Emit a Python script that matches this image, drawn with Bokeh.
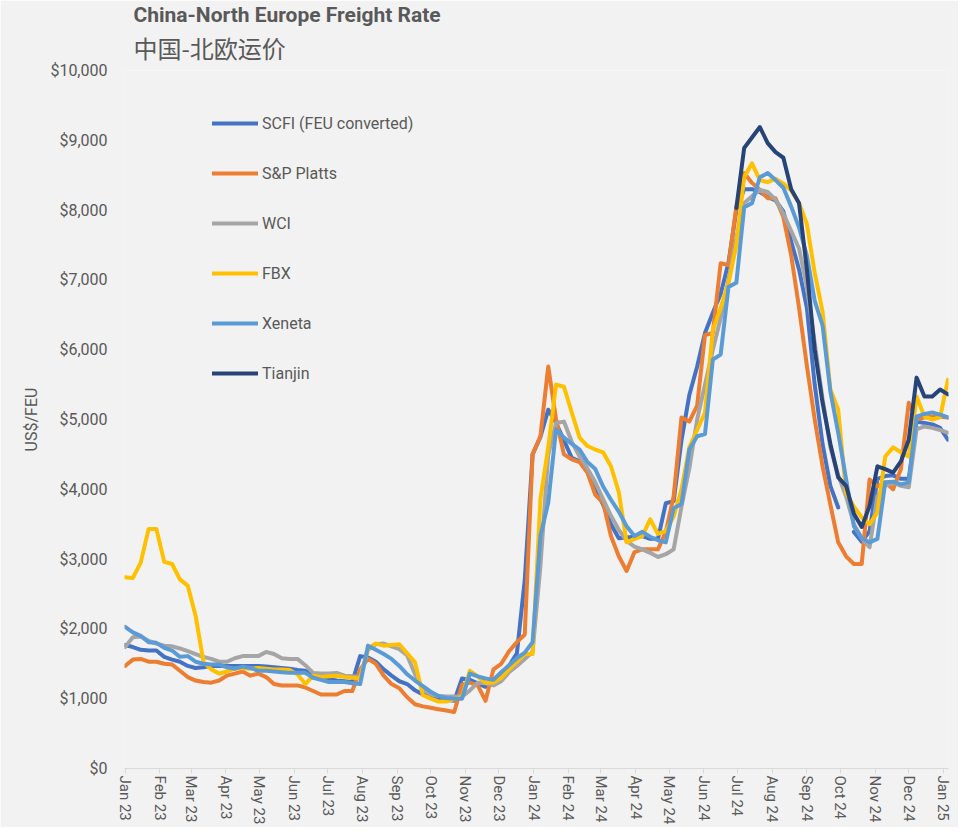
import math
from datetime import datetime, timedelta
import numpy as np
from bokeh.plotting import figure
from bokeh.models import (Range1d, FixedTicker, NumeralTickFormatter, DatetimeTickFormatter,
                          Legend, LegendItem, Title)
from bokeh.embed import file_html
from bokeh.resources import INLINE

nan = float("nan")

# Weekly observations, Jan 2023 - Jan 2025 (US$/FEU)
start_date = datetime(2023, 1, 1)
n_weeks = 106

scfi = [1770, 1740, 1700, 1690, 1690, 1600, 1560, 1530, 1470, 1440,
        1450, 1470, 1470, 1470, 1470, 1470, 1470, 1470, 1460, 1450,
        1440, 1430, 1410, 1400, 1340, 1300, 1280, 1260, 1250, 1240,
        1610, 1590, 1530, 1420, 1330, 1250, 1210, 1120, 1060, 1030,
        1000, 985, 970, 1290, 1270, 1220, 1170, 1260, 1370, 1470,
        1650, 2700, 4500, 4750, 5140, 4950, 4700, 4450, 4400, 4250,
        4000, 3780, 3500, 3300, 3310, 3320, 3330, 3290, 3290, 3800,
        3830, 4700, 5350, 5760, 6240, 6530, 6800, 7250, 8000, 8300,
        8300, 8260, 8190, 8140, 7980, 7550, 7150, 6600, 5500, 4650,
        4050, 3740, nan, 3390, 3250, 3400, 4150, 4190, 4200, 4150,
        4150, 4970, 4950, 4930, 4880, 4710]

platts = [1470, 1560, 1570, 1530, 1530, 1500, 1490, 1400, 1310, 1260,
          1240, 1230, 1260, 1330, 1360, 1390, 1330, 1360, 1310, 1210,
          1190, 1190, 1190, 1160, 1110, 1060, 1060, 1060, 1110, 1110,
          1420, 1570, 1500, 1330, 1210, 1150, 1020, 920, 890, 870,
          850, 830, 810, 1200, 1230, 1190, 970, 1420, 1500, 1680,
          1810, 1920, 4500, 4760, 5760, 5000, 4500, 4430, 4390, 4240,
          3920, 3810, 3330, 3040, 2830, 3100, 3140, 3140, 3140, 3390,
          3900, 5030, 4970, 5200, 6210, 6240, 7240, 7210, 8050, 8530,
          8390, 8290, 8170, 8170, 7900, 7350, 6600, 5770, 5000, 4330,
          3780, 3240, 3040, 2930, 2930, 4140, 4040, 4100, 4000, 4290,
          5240, 5000, 5030, 5040, 5040, 5030]

wci = [1740, 1880, 1890, 1830, 1790, 1760, 1750, 1720, 1680, 1640,
       1600, 1570, 1530, 1530, 1580, 1610, 1610, 1610, 1670, 1640,
       1580, 1570, 1570, 1480, 1370, 1360, 1360, 1370, 1330, 1320,
       1310, 1700, 1780, 1790, 1750, 1710, 1620, 1350, 1130, 1060,
       1040, 1030, 1030, 1030, 1120, 1230, 1220, 1190, 1250, 1380,
       1470, 1570, 1670, 2900, 4500, 4950, 4970, 4680, 4470, 4300,
       4100, 3860, 3620, 3420, 3260, 3180, 3140, 3090, 3030, 3070,
       3140, 3750, 4300, 5000, 5500, 6000, 6450, 7000, 7600, 8100,
       8200, 8290, 8260, 8150, 7950, 7700, 7450, 6900, 6100, 5300,
       4600, 4200, 3900, 3500, 3300, 3170, 3900, 4050, 4100, 4050,
       4030, 4860, 4900, 4880, 4850, 4810]

fbx = [2740, 2730, 2950, 3430, 3430, 2960, 2930, 2710, 2620, 2190,
       1530, 1420, 1360, 1390, 1430, 1440, 1430, 1440, 1430, 1420,
       1420, 1410, 1350, 1210, 1330, 1310, 1320, 1330, 1310, 1300,
       1290, 1720, 1790, 1760, 1770, 1780, 1650, 1520, 1050, 1000,
       960, 960, 990, 1030, 1400, 1320, 1230, 1230, 1300, 1420,
       1530, 1640, 1640, 3860, 4600, 5500, 5470, 5100, 4740, 4620,
       4570, 4530, 4330, 3960, 3240, 3290, 3330, 3570, 3360, 3400,
       3610, 4000, 4600, 4850, 5100, 6290, 6600, 6950, 7500, 8470,
       8670, 8430, 8400, 8450, 8380, 8280, 8100, 7800, 7100, 6550,
       5430, 5140, 3950, 3750, 3600, 3500, 3670, 4470, 4600, 4530,
       4470, 5330, 5040, 5000, 5030, 5570]

xeneta = [2030, 1950, 1900, 1810, 1800, 1730, 1690, 1600, 1610, 1530,
          1500, 1490, 1490, 1450, 1430, 1460, 1440, 1400, 1400, 1390,
          1380, 1370, 1370, 1370, 1300, 1270, 1240, 1240, 1240, 1220,
          1210, 1760, 1700, 1640, 1570, 1470, 1350, 1260, 1180, 1100,
          1040, 1010, 1000, 1000, 1360, 1320, 1290, 1270, 1380, 1480,
          1580, 1660, 1810, 3330, 3810, 4860, 4740, 4650, 4570, 4390,
          4290, 4040, 3850, 3680, 3470, 3330, 3390, 3320, 3270, 3240,
          3730, 3790, 4570, 4760, 4790, 5860, 5930, 6900, 6960, 8040,
          8100, 8470, 8530, 8430, 8320, 8050, 7750, 7350, 6700, 6350,
          5400, 4810, 4150, 3470, 3300, 3240, 3290, 4100, 4110, 4070,
          4100, 5040, 5080, 5100, 5070, 5030]

tianjin = [nan] * 78 + [8030, 8890, 9040, 9190, 8960, 8830, 8750, 8300, 8100, 7150,
                        6000, 5240, 4650, 4170, 4050, 3650, 3460, 3760, 4330, 4290,
                        4240, 4400, 4710, 5600, 5330, 5330, 5430, 5360]

series_names = ["SCFI (FEU converted)", "S&P Platts", "WCI", "FBX", "Xeneta", "Tianjin"]
series_values = [scfi, platts, wci, fbx, xeneta, tianjin]
series_colors = ["#4472C4", "#ED7D31", "#A5A5A5", "#FFC000", "#5B9BD5", "#264478"]

y_ticks = list(range(0, 10001, 1000))
month_ticks = [datetime(2023 + (m // 12), m % 12 + 1, 1) for m in range(25)]

dates = [start_date + timedelta(weeks=i) for i in range(n_weeks)]

TXT = "#595959"
BG = "#F2F2F2"
FONT = "Roboto"

p = figure(width=958, height=827, x_axis_type="datetime",
           x_range=Range1d(datetime(2022, 12, 31, 12), datetime(2025, 1, 5, 12)),
           y_range=Range1d(0, 10000),
           output_backend="svg", toolbar_location=None,
           background_fill_color=BG, border_fill_color=BG, outline_line_color=None,
           min_border_left=124, min_border_right=10, min_border_top=70, min_border_bottom=57)

p.xgrid.grid_line_color = None
p.ygrid.grid_line_color = None

items = []
for name, vals, col in zip(series_names, series_values, series_colors):
    r = p.line(dates, np.array(vals, dtype=float), line_color=col, line_width=4,
               line_join="round", line_cap="round")
    items.append(LegendItem(label=name, renderers=[r]))

legend = Legend(items=items, location=(88, 385), orientation="vertical",
                glyph_width=46, glyph_height=20, label_height=20, spacing=30,
                padding=0, margin=0, label_standoff=4,
                border_line_color=None, background_fill_alpha=0,
                label_text_font=FONT, label_text_font_size="16px", label_text_color=TXT)
p.add_layout(legend, "center")

# y axis
yax = p.yaxis[0]
yax.ticker = FixedTicker(ticks=y_ticks)
yax.formatter = NumeralTickFormatter(format="$0,0")
yax.axis_line_color = None
yax.major_tick_line_color = None
yax.minor_tick_line_color = None
yax.major_tick_out = 0
yax.major_tick_in = 0
yax.major_label_standoff = 17
yax.major_label_text_font = FONT
yax.major_label_text_font_size = "16px"
yax.major_label_text_color = TXT
yax.axis_label = "US$/FEU"
yax.axis_label_text_font = FONT
yax.axis_label_text_font_style = "normal"
yax.axis_label_text_font_size = "16px"
yax.axis_label_text_color = TXT
yax.axis_label_standoff = 6

# x axis
xax = p.xaxis[0]
epoch = datetime(1970, 1, 1)
xax.ticker = FixedTicker(ticks=[(d - epoch).total_seconds() * 1000 for d in month_ticks])
fmt = "%b %y"
xax.formatter = DatetimeTickFormatter(microseconds=fmt, milliseconds=fmt, seconds=fmt,
                                      minsec=fmt, minutes=fmt, hourmin=fmt, hours=fmt,
                                      days=fmt, months=fmt, years=fmt)
xax.axis_line_color = "#D9D9D9"
xax.major_tick_line_color = "#D9D9D9"
xax.minor_tick_line_color = None
xax.major_tick_out = 5
xax.major_tick_in = 0
xax.major_label_standoff = 2
xax.major_label_orientation = -math.pi / 2
xax.major_label_text_font = FONT
xax.major_label_text_font_size = "15px"
xax.major_label_text_color = TXT

# titles (first added sits closest to the plot)
t2 = Title(text="中国-北欧运价", align="left", offset=9,
           text_font="Noto Sans CJK SC", text_font_size="24px", text_font_style="normal",
           text_color=TXT, standoff=11)
p.add_layout(t2, "above")
t1 = Title(text="China-North Europe Freight Rate", align="left", offset=9,
           text_font=FONT, text_font_size="21px", text_font_style="bold",
           text_color=TXT, standoff=-8)
p.add_layout(t1, "above")

open("out.html", "w").write(file_html(p, INLINE))
